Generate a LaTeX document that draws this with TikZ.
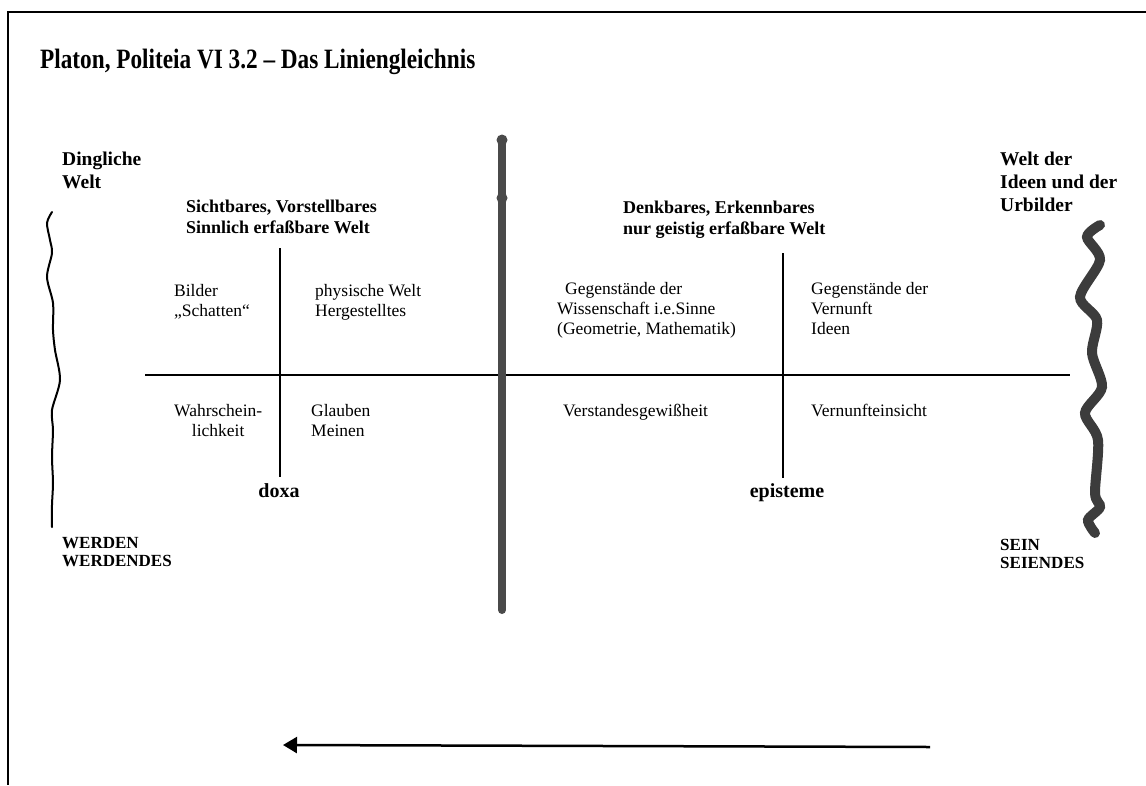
\documentclass[tikz,border=0pt]{standalone}
\usepackage{fontspec}
\setmainfont{Liberation Serif}
\newfontfamily\titelfont[FakeStretch=0.83]{Liberation Serif}
\usetikzlibrary{arrows.meta}
\definecolor{stift}{HTML}{4A4A4A}
\definecolor{pinsel}{HTML}{3C3C3C}

\begin{document}
\begin{tikzpicture}[x=1pt, y=-1pt,
    txt/.style={inner sep=0pt, anchor=north west, align=left, font=\fontsize{17.5}{20}\selectfont},
    kopf/.style={inner sep=0pt, anchor=north west, align=left, font=\bfseries\fontsize{18}{21}\selectfont},
    welt/.style={inner sep=0pt, anchor=north west, align=left, font=\bfseries\fontsize{19.5}{23}\selectfont},
    pol/.style={inner sep=0pt, anchor=north west, align=left, font=\bfseries\fontsize{17}{18.5}\selectfont},
    wort/.style={inner sep=0pt, anchor=base, font=\bfseries\fontsize{20}{22}\selectfont},
    trenn/.style={line width=2.5pt},
    rahmen/.style={line width=2pt}]
  \useasboundingbox (0,0) rectangle (1146,785);
  \coordinate (ro) at (8,12); \coordinate (rr) at (1146,12); \coordinate (ru) at (8,785);
  \draw[rahmen] (rr) -- (ro) -- (ru);
  \node[anchor=base west, inner sep=0pt, font=\titelfont\bfseries\fontsize{28}{31}\selectfont] (titel) at (40,68) {Platon, Politeia VI 3.2 – Das Liniengleichnis};
  \node[welt] (dingl) at (62,152) {Dingliche\\Welt};
  \node[welt] (ideen) at (1000,152) {Welt der\\Ideen und der\\Urbilder};
  \node[kopf] (sicht) at (186,200) {Sichtbares, Vorstellbares\\Sinnlich erfaßbare Welt};
  \node[kopf] (denk) at (623,201) {Denkbares, Erkennbares\\nur geistig erfaßbare Welt};
  \node[txt] (bilder) at (174,284) {Bilder\\„Schatten“};
  \node[txt] (physis) at (315,284) {physische Welt\\Hergestelltes};
  \node[txt] (wiss) at (557,282) {\hspace*{8pt}Gegenstände der\\Wissenschaft i.e.Sinne\\(Geometrie, Mathematik)};
  \node[txt] (vern) at (811,282) {Gegenstände der\\Vernunft\\Ideen};
  \node[txt, align=center] (wahr) at (174,404) {Wahrschein-\\lichkeit};
  \node[txt] (glaub) at (311,404) {Glauben\\Meinen};
  \node[txt] (verst) at (563,404) {Verstandesgewißheit};
  \node[txt] (einsicht) at (811,404) {Vernunfteinsicht};
  \node[wort] (doxa) at (279,497) {doxa};
  \node[wort] (epist) at (787,497) {episteme};
  \node[pol] (werden) at (62,537) {WERDEN\\WERDENDES};
  \node[pol] (sein) at (1000,539) {SEIN\\SEIENDES};
  \coordinate (hl) at (145,375); \coordinate (hr) at (1070,375);
  \draw[line width=2pt] (hl) -- (hr);
  \coordinate (lo) at (280,248); \coordinate (lu) at (280,477);
  \draw[trenn] (lo) -- (lu);
  \coordinate (eo) at (783,253); \coordinate (eu) at (783,478);
  \draw[trenn] (eo) -- (eu);
  \coordinate (mo) at (502,140); \coordinate (mu) at (502,610);
  \draw[stift, line width=8pt, line cap=round] (mo) -- (mu);
  \fill[stift] (mo) circle (5.5) (502,198) circle (5.5);
  \draw[line width=2pt, line cap=round] plot[smooth] coordinates {(52,212) (47,223) (50,240) (52,253) (47,277) (53,303) (53,330) (55,350) (60,380) (52,410) (53,430) (52,457) (53,483) (52,505) (52,527)};
  \draw[pinsel, line width=10pt, line cap=round] plot[smooth] coordinates {(1100,225) (1087,237) (1100,260) (1080,297) (1097,320) (1092,353) (1102,387) (1085,413) (1098,440) (1095,493) (1100,507) (1088,520) (1095,533)};
  \coordinate (pr) at (930,747); \coordinate (pl) at (283,745);
  \draw[line width=2.5pt, -{Triangle[length=14pt, width=16pt]}] (pr) -- (pl);
\end{tikzpicture}
\end{document}
